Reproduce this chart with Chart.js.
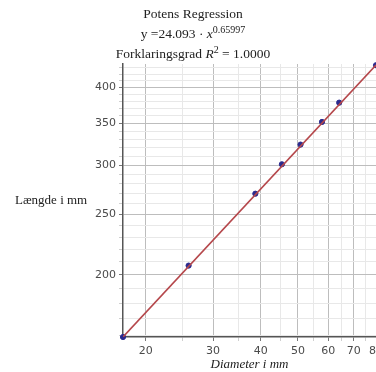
<!DOCTYPE html>
<html lang="da">
  <head>
    <meta charset="UTF-8" />
    <title>Potens Regression</title>
    <script src="https://cdn.jsdelivr.net/npm/chart.js"></script>
    <style>
      html, body { margin: 0; padding: 0; background: #ffffff; overflow: hidden; }
      #wrap { position: relative; width: 376px; height: 372px; }
      .titel {
        position: absolute; left: 0; width: 386px; text-align: center;
        font-family: "Liberation Serif", serif; font-size: 13.5px; color: #222;
        line-height: 16px; white-space: nowrap;
      }
      .titel sup { font-size: 10px; vertical-align: 5px; line-height: 0; }
      #ylabel {
        position: absolute; left: 15px; top: 192px;
        font-family: "Liberation Serif", serif; font-size: 13px; color: #222;
      }
    </style>
  </head>
  <body>
    <div id="wrap">
      <canvas id="graf" width="376" height="372"></canvas>
      <div class="titel" style="top: 6px">Potens Regression</div>
      <div class="titel" style="top: 26px">y =24.093 · <i>x</i><sup>0.65997</sup></div>
      <div class="titel" style="top: 46px">Forklaringsgrad <i>R</i><sup>2</sup> = 1.0000</div>
      <div id="ylabel">Længde i mm</div>
    </div>

    <script>
      // Målinger (aflæst)
      const diameter = [17.45, 25.9, 38.7, 45.4, 50.8, 57.8, 64.1, 80];
      const laengde = [159, 207, 270, 301, 323.7, 352, 378, 434];

      // Regressionslinjens endepunkter
      const fitX = [17.45, 80];
      const fitY = [159, 434.4];

      // Akser
      const xTicks = [20, 25, 30, 35, 40, 45, 50, 55, 60, 65, 70, 75, 80];
      const xLabels = [20, 30, 40, 50, 60, 70, 80];
      const yTicks = [160, 170, 180, 190, 200, 210, 220, 230, 240, 250, 260, 270, 280, 290, 300,
        310, 320, 330, 340, 350, 360, 370, 380, 390, 400, 410, 420, 430];
      const yLabels = [200, 250, 300, 350, 400];
      const xMin = 17.45, xMax = 80, yMin = 159, yMax = 436;

      const major = "#bdbdbd";
      const minor = "#e8e8e8";

      new Chart(document.getElementById("graf"), {
        type: "scatter",
        data: {
          datasets: [
            {
              type: "line",
              data: fitX.map((x, i) => ({ x: x, y: fitY[i] })),
              borderColor: "#b5474b",
              borderWidth: 1.6,
              pointRadius: 0,
              fill: false,
            },
            {
              data: diameter.map((x, i) => ({ x: x, y: laengde[i] })),
              backgroundColor: "#2b2b8f",
              borderColor: "#2b2b8f",
              pointRadius: 2.6,
              clip: false,
            },
          ],
        },
        options: {
          responsive: false,
          animation: false,
          layout: { autoPadding: false, padding: { top: 64, left: 0, right: 0, bottom: 0 } },
          plugins: { legend: { display: false }, tooltip: { enabled: false } },
          scales: {
            x: {
              type: "logarithmic",
              bounds: "data",
              min: xMin,
              max: xMax,
              afterBuildTicks: (s) => { s.ticks = xTicks.map((v) => ({ value: v })); },
              afterFit: (s) => { s.paddingRight = 0; s.paddingLeft = 0; s.height = 35; },
              ticks: {
                autoSkip: false,
                maxRotation: 0,
                padding: 4,
                color: "#4a4a4a",
                font: { family: "DejaVu Sans", size: 11 },
                callback: (v) => (xLabels.includes(v) ? String(v) : ""),
              },
              grid: {
                color: (c) => (xLabels.includes(c.tick.value) ? major : minor),
                tickColor: (c) => (xLabels.includes(c.tick.value) ? "#777" : "#cfcfcf"),
                tickLength: 4,
              },
              border: { display: true, color: "#555", width: 1.5 },
              title: {
                display: true,
                text: "Diameter i mm",
                color: "#222",
                padding: { top: 0, bottom: 0 },
                font: { family: "Liberation Serif", size: 13, style: "italic" },
              },
            },
            y: {
              type: "logarithmic",
              bounds: "data",
              min: yMin,
              max: yMax,
              afterBuildTicks: (s) => { s.ticks = yTicks.map((v) => ({ value: v })); },
              afterFit: (s) => { s.width = 123; },
              ticks: {
                autoSkip: false,
                padding: 3,
                color: "#4a4a4a",
                font: { family: "DejaVu Sans", size: 11 },
                callback: (v) => (yLabels.includes(v) ? String(v) : ""),
              },
              grid: {
                color: (c) => (yLabels.includes(c.tick.value) ? major : minor),
                tickColor: (c) => (yLabels.includes(c.tick.value) ? "#777" : "#cfcfcf"),
                tickLength: 4,
              },
              border: { display: true, color: "#555", width: 1.5 },
            },
          },
        },
      });
    </script>
  </body>
</html>
